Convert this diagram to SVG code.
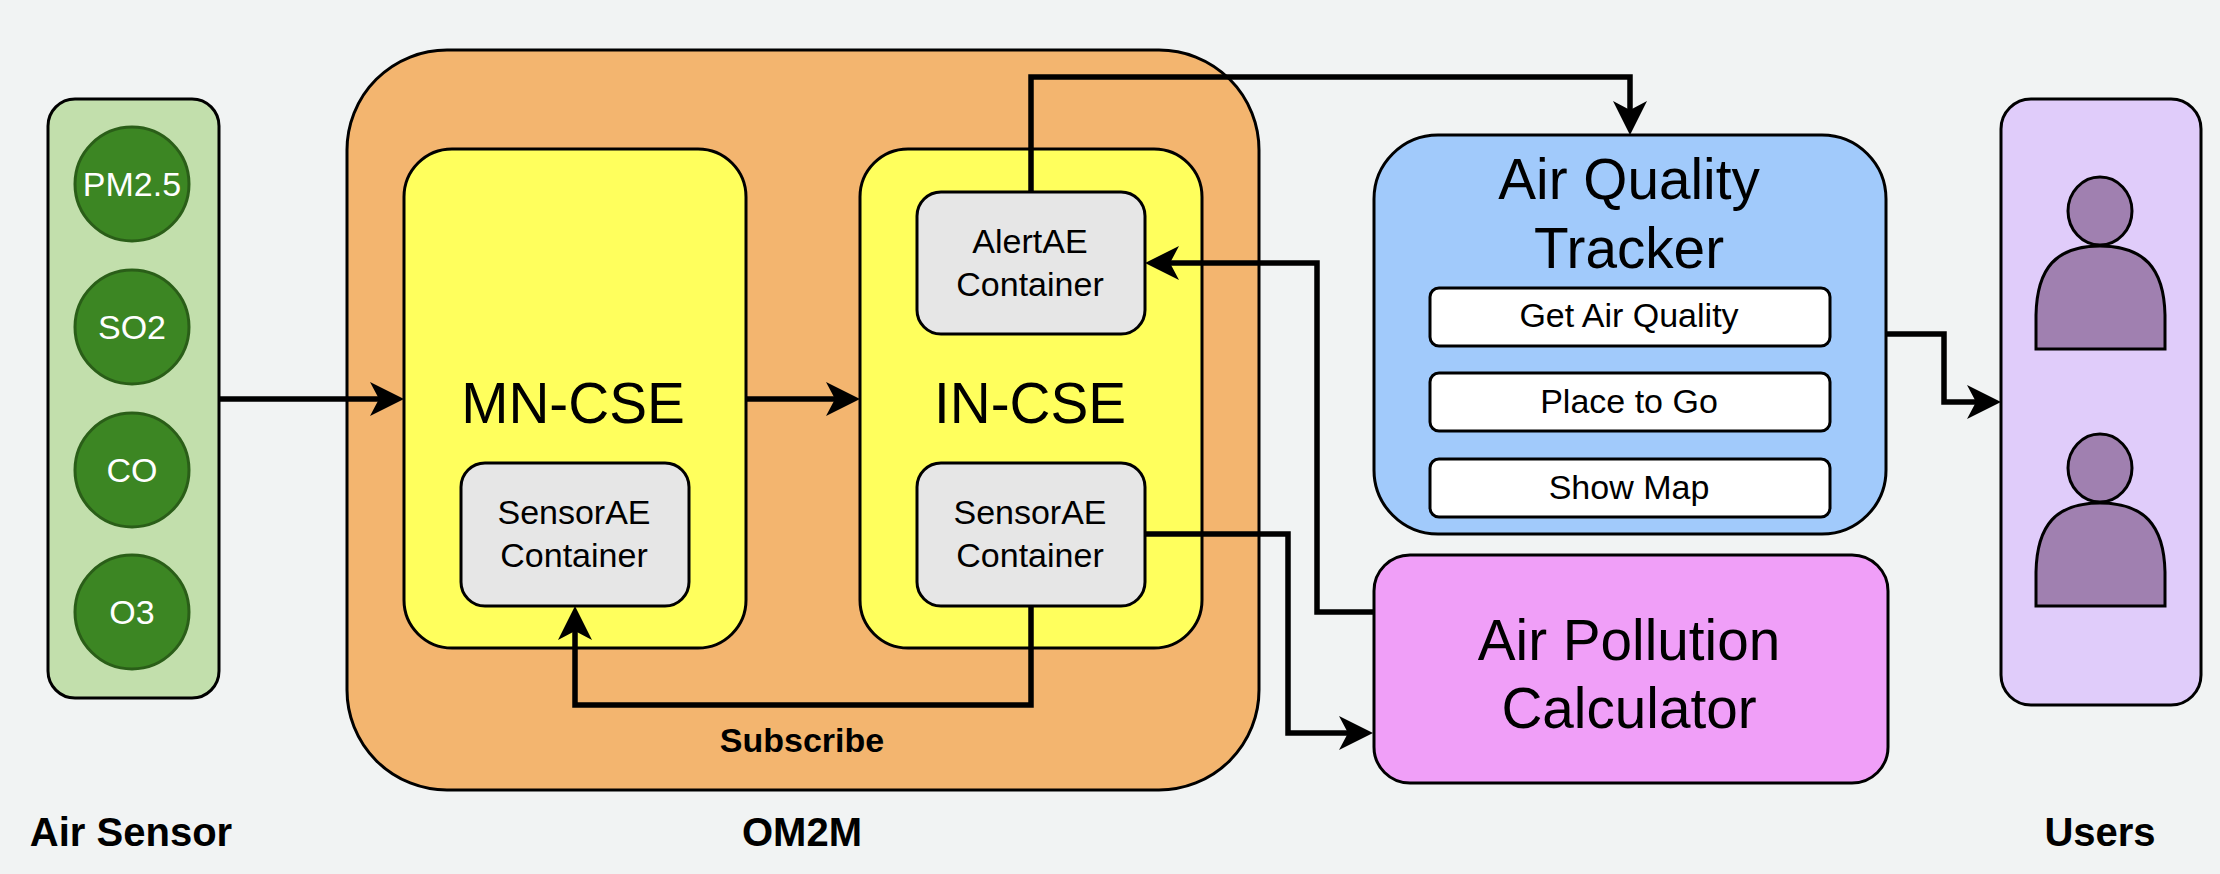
<svg xmlns="http://www.w3.org/2000/svg" width="2220" height="874" viewBox="0 0 2220 874">
<style>
text{font-family:"Liberation Sans",Arial,sans-serif;font-size:34px;text-anchor:middle;fill:#000}
.big{font-size:56.7px}
.b{font-weight:700}
.lbl{font-size:40px}
.w{fill:#fff}
.box{stroke:#000;stroke-width:3}
.sensor{fill:#3c8623;stroke:#2a5e18;stroke-width:3}
.yellow{fill:#ffff5d}
.gray{fill:#e6e6e6}
.white{fill:#fff}
.person{fill:#a080b0;stroke:#000;stroke-width:3}
.conn{fill:none;stroke:#000;stroke-width:5.5;stroke-linejoin:miter}
</style>
<defs>
<marker id="arrow" markerUnits="userSpaceOnUse" markerWidth="36" markerHeight="36" refX="26" refY="17" orient="auto">
<path d="M0 0L34 17L0 34L9 17Z" fill="#000"/>
</marker>
</defs>
<rect width="2220" height="874" fill="#f1f3f3"/>
<g id="air-sensor">
<rect class="box" x="48" y="99" width="171" height="599" rx="27" fill="#c2dfac"/>
<text x="131" y="846" class="b lbl">Air Sensor</text>
</g>
<g id="pm25"><circle class="sensor" cx="132" cy="184" r="57"/><text class="w" x="132" y="196">PM2.5</text></g>
<g id="so2"><circle class="sensor" cx="132" cy="327" r="57"/><text class="w" x="132" y="339">SO2</text></g>
<g id="co"><circle class="sensor" cx="132" cy="470" r="57"/><text class="w" x="132" y="482">CO</text></g>
<g id="o3"><circle class="sensor" cx="132" cy="612" r="57"/><text class="w" x="132" y="624">O3</text></g>
<g id="om2m">
<rect class="box" x="347" y="50" width="912" height="740" rx="100" fill="#f3b56f"/>
<text x="802" y="846" class="b lbl">OM2M</text>
<text x="802" y="752" class="b">Subscribe</text>
</g>
<g id="mn-cse">
<rect class="box yellow" x="404" y="149" width="342" height="499" rx="48"/>
<text class="big" x="573" y="423">MN-CSE</text>
</g>
<g id="mn-sensor">
<rect class="box gray" x="461" y="463" width="228" height="143" rx="24"/>
<text x="574" y="524">SensorAE</text><text x="574" y="567">Container</text>
</g>
<g id="in-cse">
<rect class="box yellow" x="860" y="149" width="342" height="499" rx="48"/>
<text class="big" x="1030" y="423">IN-CSE</text>
</g>
<g id="in-alert">
<rect class="box gray" x="917" y="192" width="228" height="142" rx="24"/>
<text x="1030" y="253">AlertAE</text><text x="1030" y="296">Container</text>
</g>
<g id="in-sensor">
<rect class="box gray" x="917" y="463" width="228" height="143" rx="24"/>
<text x="1030" y="524">SensorAE</text><text x="1030" y="567">Container</text>
</g>
<g id="tracker">
<rect class="box" x="1374" y="135" width="512" height="399" rx="64" fill="#a1cafb"/>
<text class="big" x="1629" y="199">Air Quality</text>
<text class="big" x="1629" y="268">Tracker</text>
</g>
<g id="get-air-quality"><rect class="box white" x="1430" y="288" width="400" height="58" rx="9"/><text x="1629" y="327">Get Air Quality</text></g>
<g id="place-to-go"><rect class="box white" x="1430" y="373" width="400" height="58" rx="9"/><text x="1629" y="413">Place to Go</text></g>
<g id="show-map"><rect class="box white" x="1430" y="459" width="400" height="58" rx="9"/><text x="1629" y="499">Show Map</text></g>
<g id="calculator">
<rect class="box" x="1374" y="555" width="514" height="228" rx="36" fill="#f09ff8"/>
<text class="big" x="1629" y="660">Air Pollution</text>
<text class="big" x="1629" y="728">Calculator</text>
</g>
<g id="users">
<rect class="box" x="2001" y="99" width="200" height="606" rx="30" fill="#e0ccfa"/>
<text x="2100" y="846" class="b lbl">Users</text>
</g>
<g id="user-1">
<ellipse class="person" cx="2100" cy="211" rx="32" ry="34"/>
<path class="person" d="M2036 349V315C2037 268 2056 246 2100 246S2164 268 2165 315V349Z"/>
</g>
<g id="user-2">
<ellipse class="person" cx="2100" cy="468" rx="32" ry="34"/>
<path class="person" d="M2036 606V572C2037 525 2056 503 2100 503S2164 525 2165 572V606Z"/>
</g>
<g id="connectors">
<path class="conn" marker-end="url(#arrow)" d="M219 399H396"/>
<path class="conn" marker-end="url(#arrow)" d="M746 399H852"/>
<path class="conn" marker-end="url(#arrow)" d="M1031 192V77H1630V127"/>
<path class="conn" marker-end="url(#arrow)" d="M1031 606V705H575V614"/>
<path class="conn" marker-end="url(#arrow)" d="M1145 534H1288V733H1365"/>
<path class="conn" marker-end="url(#arrow)" d="M1373 612H1317V263H1153"/>
<path class="conn" marker-end="url(#arrow)" d="M1886 334H1944V402H1993"/>
</g>
</svg>
